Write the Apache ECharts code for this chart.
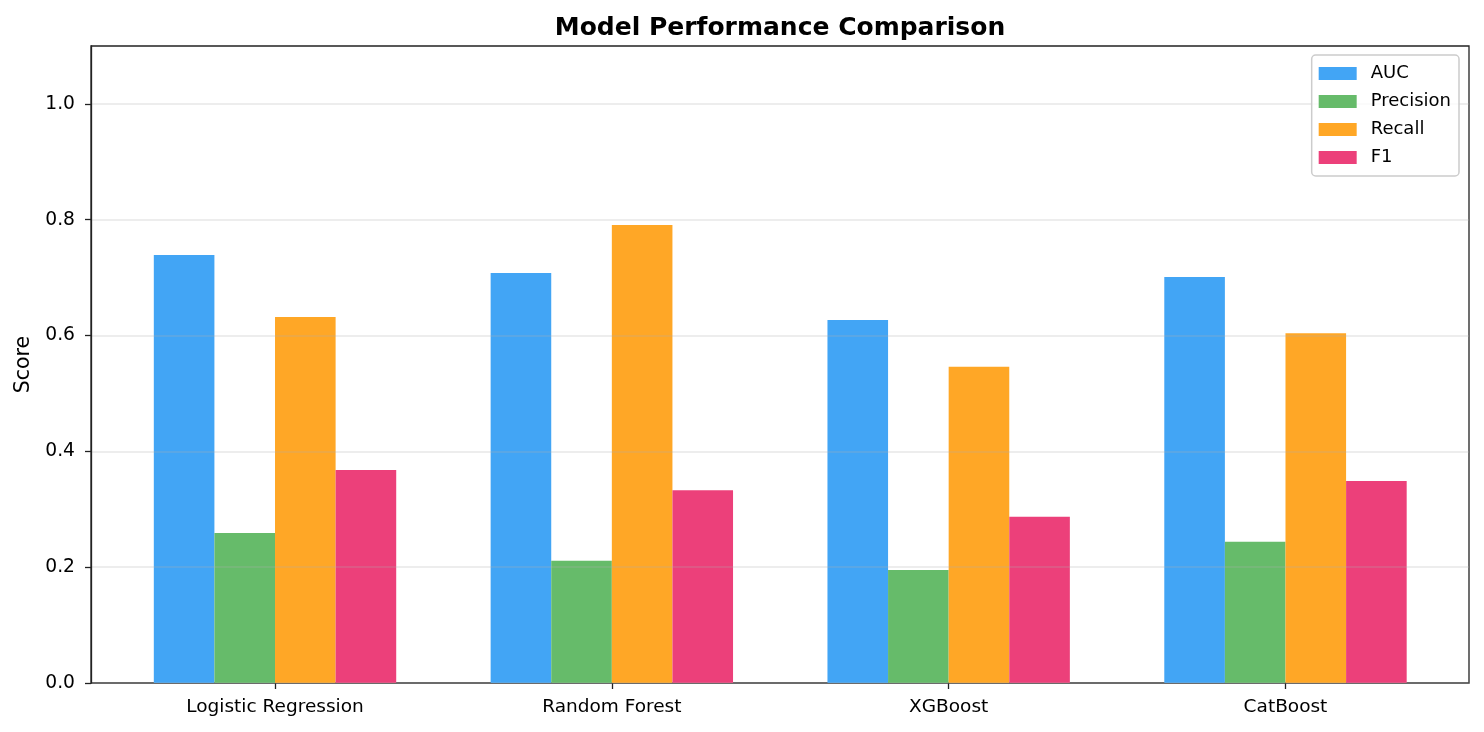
<!DOCTYPE html>
<html>
<head>
<meta charset="utf-8">
<script src="https://cdn.jsdelivr.net/npm/echarts@6/dist/echarts.min.js"></script>
<style>
  html, body { margin: 0; padding: 0; background: #fff; }
  #chart { width: 1484px; height: 732px; }
</style>
</head>
<body>
<div id="chart"></div>
<script>
// 模型 / 指标
const models = ['Logistic Regression', 'Random Forest', 'XGBoost', 'CatBoost'];
const metricNames = ['AUC', 'Precision', 'Recall', 'F1'];
const metricColors = ['#42A5F5', '#66BB6A', '#FFA726', '#EC407A'];

const aucValues = [0.739, 0.708, 0.627, 0.701];
const precisionValues = [0.259, 0.211, 0.195, 0.244];
const recallValues = [0.632, 0.791, 0.546, 0.604];
const f1Values = [0.368, 0.333, 0.287, 0.349];

const yTicks = [0, 0.2, 0.4, 0.6, 0.8, 1.0];

const font = 'DejaVu Sans';

var chart = echarts.init(document.getElementById('chart'));

var seriesData = [aucValues, precisionValues, recallValues, f1Values];

var option = {
    animation: false,
    textStyle: { fontFamily: font },
    title: {
        text: 'Model Performance Comparison',
        left: 775,
        textAlign: 'center',
        top: 11,
        textStyle: { fontFamily: font, fontSize: 25, fontWeight: 'bold', color: '#000' }
    },
    legend: {
        orient: 'vertical',
        right: 25,
        top: 55,
        data: metricNames,
        itemWidth: 38,
        itemHeight: 13,
        itemGap: 7,
        padding: [8, 8, 8, 7],
        borderColor: '#cccccc',
        borderWidth: 1.5,
        borderRadius: 4,
        backgroundColor: 'rgba(255,255,255,0.8)',
        icon: 'rect',
        textStyle: { fontFamily: font, fontSize: 18, lineHeight: 21, color: '#000', padding: [0, 0, 0, 9] }
    },
    grid: [
        // 外框 + y轴
        { left: 91, right: 15, top: 46, bottom: 49, show: true, borderColor: '#222', borderWidth: 1.3 },
        // 柱状图区域（两侧留白更大）
        { left: 106.6, right: 30.1, top: 46, bottom: 49 }
    ],
    xAxis: [
        { gridIndex: 0, type: 'value', min: 0, max: 1, show: false },
        {
            gridIndex: 1,
            type: 'category',
            data: models,
            axisLine: { show: false },
            axisTick: { show: true, alignWithLabel: true, length: 6, lineStyle: { color: '#222', width: 1.3 } },
            axisLabel: { fontFamily: font, fontSize: 18.5, color: '#000', margin: 15 }
        }
    ],
    yAxis: [
        {
            gridIndex: 0,
            type: 'value',
            min: 0,
            max: 1.1,
            interval: 0.2,
            z: 3,
            name: 'Score',
            nameLocation: 'middle',
            nameGap: 53,
            nameTextStyle: { fontFamily: font, fontSize: 20.5, color: '#000' },
            axisLine: { show: true, lineStyle: { color: '#222', width: 1.3 } },
            axisTick: { show: true, length: 6, customValues: yTicks, lineStyle: { color: '#222', width: 1.3 } },
            axisLabel: {
                fontFamily: font, fontSize: 18.7, color: '#000', margin: 16,
                customValues: yTicks,
                formatter: function (v) { return v.toFixed(1); }
            },
            splitLine: { show: true, lineStyle: { color: 'rgba(176,176,176,0.3)', width: 1.5 } }
        },
        { gridIndex: 1, type: 'value', min: 0, max: 1.1, show: false }
    ],
    series: metricNames.map(function (name, i) {
        return {
            name: name,
            type: 'bar',
            xAxisIndex: 1,
            yAxisIndex: 1,
            data: seriesData[i],
            barWidth: 60.6,
            barGap: '0%',
            itemStyle: { color: metricColors[i] }
        };
    })
};

chart.setOption(option);

window.addEventListener('resize', function () {
    chart.resize();
});
</script>
</body>
</html>
